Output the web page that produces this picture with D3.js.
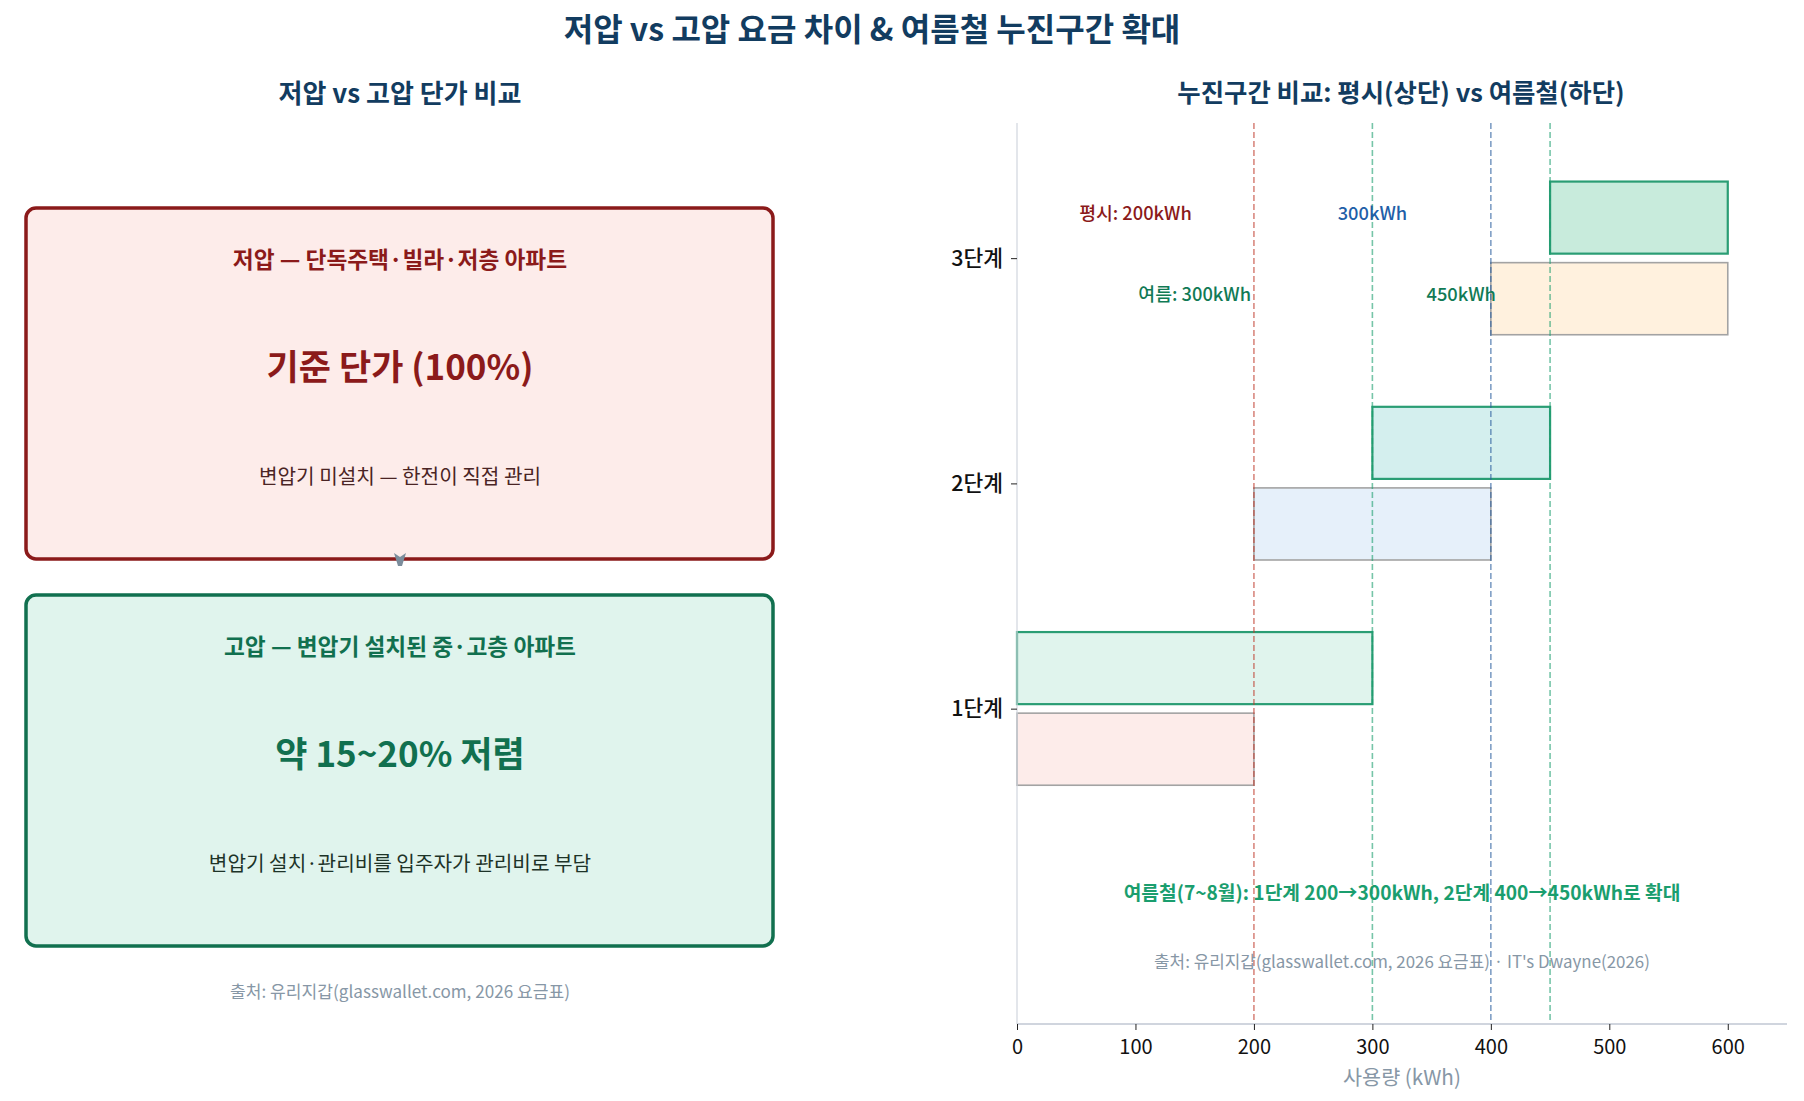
<!DOCTYPE html>
<html>
<head>
<meta charset="utf-8">
<script src="https://d3js.org/d3.v7.min.js"></script>
<style>
  body { margin: 0; background: #fff; }
  svg text { font-family: "Noto Sans CJK KR", "Noto Sans", sans-serif; }
</style>
</head>
<body>
<svg id="chart" width="1804" height="1101"></svg>
<script>
// ---- data ----
const tiers = ["1단계", "2단계", "3단계"];
const normalStart = [0, 200, 400];      // 평시 구간 시작 (kWh)
const normalEnd = [200, 400, 600];      // 평시 구간 끝
const summerStart = [0, 300, 450];      // 여름철 구간 시작
const summerEnd = [300, 450, 600];      // 여름철 구간 끝
const normalFill = ["#fdecea", "#e6f0fa", "#fff1de"];
const summerFill = ["#e0f4ed", "#d4efee", "#c8ebdc"];
const thresholds = [200, 300, 400, 450];
const thresholdColor = ["#c0392b", "#1a9e6e", "#2c5f9e", "#1a9e6e"];
const xTicks = [0, 100, 200, 300, 400, 500, 600];

// labels above bars: [text, x position, color]
const normalLabels = [["평시: 200kWh", 100, "#8b1a1a"], ["300kWh", 300, "#1f5fa8"]];
const summerLabels = [["여름: 300kWh", 150, "#117a55"], ["450kWh", 375, "#117a55"]];

// left panel boxes
const boxTitles = ["저압 — 단독주택·빌라·저층 아파트", "고압 — 변압기 설치된 중·고층 아파트"];
const boxMain = ["기준 단가 (100%)", "약 15~20% 저렴"];
const boxNotes = ["변압기 미설치 — 한전이 직접 관리", "변압기 설치·관리비를 입주자가 관리비로 부담"];
const boxStroke = ["#8b1a1a", "#11704f"];
const boxFill = ["#fdecea", "#e0f4ed"];
const boxNoteColor = ["#4a2424", "#1d3328"];

const svg = d3.select("#chart");

// titles
svg.append("text").attr("x", 872).attr("y", 27)
  .attr("text-anchor", "middle").attr("dominant-baseline", "central")
  .attr("font-size", 32).attr("font-weight", 700).attr("fill", "#123c60")
  .text("저압 vs 고압 요금 차이 & 여름철 누진구간 확대");

svg.append("text").attr("x", 400).attr("y", 91)
  .attr("text-anchor", "middle").attr("dominant-baseline", "central")
  .attr("font-size", 26).attr("font-weight", 700).attr("fill", "#123c60")
  .text("저압 vs 고압 단가 비교");

svg.append("text").attr("x", 1401).attr("y", 91)
  .attr("text-anchor", "middle").attr("dominant-baseline", "central")
  .attr("font-size", 25.4).attr("font-weight", 700).attr("fill", "#123c60")
  .text("누진구간 비교: 평시(상단) vs 여름철(하단)");

// ---- left panel: two rounded boxes ----
const boxTop = [208, 595];
const boxH = 351;
const left = svg.append("g");

boxTop.forEach((top, i) => {
  left.append("rect")
    .attr("x", 26).attr("y", top).attr("width", 747).attr("height", boxH)
    .attr("rx", 10).attr("ry", 10)
    .attr("fill", boxFill[i]).attr("stroke", boxStroke[i]).attr("stroke-width", 3.5);

  left.append("text").attr("x", 400).attr("y", top + 50)
    .attr("text-anchor", "middle").attr("dominant-baseline", "central")
    .attr("font-size", 22.7).attr("font-weight", 700).attr("fill", boxStroke[i])
    .text(boxTitles[i]);

  left.append("text").attr("x", 400).attr("y", top + 156)
    .attr("text-anchor", "middle").attr("dominant-baseline", "central")
    .attr("font-size", 35).attr("font-weight", 700).attr("fill", boxStroke[i])
    .text(boxMain[i]);

  left.append("text").attr("x", 400).attr("y", top + 267)
    .attr("text-anchor", "middle").attr("dominant-baseline", "central")
    .attr("font-size", 20.2).attr("fill", boxNoteColor[i])
    .text(boxNotes[i]);
});

// tiny arrow head between the boxes
left.append("path")
  .attr("d", "M394,553 L400,557 L406,553 L402,566 L398,566 Z")
  .attr("fill", "#7b8d9c");

left.append("text").attr("x", 400).attr("y", 990)
  .attr("text-anchor", "middle").attr("dominant-baseline", "central")
  .attr("font-size", 17.1).attr("fill", "#8797a6")
  .text("출처: 유리지갑(glasswallet.com, 2026 요금표)");

// ---- right panel: tier ranges ----
const x = d3.scaleLinear().domain([0, 650]).range([1017, 1787]);
const y = d3.scaleLinear().domain([-1.4, 2.6]).range([1024, 123]);
const barH = y(0) - y(0.32);
const off = 0.18;

const right = svg.append("g");

// 평시 bars (lower)
right.selectAll("rect.normal").data(tiers).join("rect")
  .attr("class", "normal")
  .attr("x", (d, i) => x(normalStart[i]))
  .attr("y", (d, i) => y(i - off) - barH / 2)
  .attr("width", (d, i) => x(normalEnd[i]) - x(normalStart[i]))
  .attr("height", barH)
  .attr("fill", (d, i) => normalFill[i])
  .attr("stroke", "#a3a3a3").attr("stroke-width", 1.6);

// 여름철 bars (upper)
right.selectAll("rect.summer").data(tiers).join("rect")
  .attr("class", "summer")
  .attr("x", (d, i) => x(summerStart[i]))
  .attr("y", (d, i) => y(i + off) - barH / 2)
  .attr("width", (d, i) => x(summerEnd[i]) - x(summerStart[i]))
  .attr("height", barH)
  .attr("fill", (d, i) => summerFill[i])
  .attr("stroke", "#2a9d74").attr("stroke-width", 2.2);

// threshold lines
right.selectAll("line.thr").data(thresholds).join("line")
  .attr("class", "thr")
  .attr("x1", d => x(d)).attr("x2", d => x(d))
  .attr("y1", y(2.6)).attr("y2", y(-1.4))
  .attr("stroke", (d, i) => thresholdColor[i])
  .attr("stroke-opacity", 0.6)
  .attr("stroke-width", 1.6)
  .attr("stroke-dasharray", "6,3");

// left spine
right.append("line")
  .attr("x1", x(0)).attr("x2", x(0)).attr("y1", y(2.6)).attr("y2", y(-1.4))
  .attr("stroke", "#d0d5de").attr("stroke-width", 1.2);

// axes
const xAxis = d3.axisBottom(x).tickValues(xTicks).tickSize(6).tickPadding(10);
const gx = right.append("g").attr("transform", `translate(0,${y(-1.4)})`).call(xAxis);
gx.select(".domain").attr("stroke", "#d0d5de").attr("stroke-width", 2.2)
  .attr("d", `M${x(0)},0H${x(650)}`);
gx.selectAll(".tick line").attr("stroke", "#222");
gx.selectAll(".tick text").attr("font-size", 20).attr("fill", "#111")
  .attr("font-family", "\"Noto Sans CJK KR\", sans-serif");

const yAxis = d3.axisLeft(y).tickValues([0, 1, 2]).tickFormat(d => tiers[d]).tickSize(6).tickPadding(8);
const gy = right.append("g").attr("transform", `translate(${x(0)},0)`).call(yAxis);
gy.select(".domain").remove();
gy.selectAll(".tick line").attr("stroke", "#222");
gy.selectAll(".tick text").attr("font-size", 21.5).attr("font-weight", 500).attr("fill", "#111")
  .attr("font-family", "\"Noto Sans CJK KR\", sans-serif");

right.append("text").attr("x", x(325)).attr("y", 1076)
  .attr("text-anchor", "middle").attr("dominant-baseline", "central")
  .attr("font-size", 20.7).attr("fill", "#8797a6")
  .text("사용량 (kWh)");

// threshold labels
right.selectAll("text.nlab").data(normalLabels).join("text")
  .attr("class", "nlab")
  .attr("x", d => x(d[1])).attr("y", y(2.207))
  .attr("text-anchor", "middle").attr("dominant-baseline", "central")
  .attr("font-size", 18.3).attr("font-weight", 500).attr("fill", d => d[2])
  .text(d => d[0]);

right.selectAll("text.slab").data(summerLabels).join("text")
  .attr("class", "slab")
  .attr("x", d => x(d[1])).attr("y", y(1.845))
  .attr("text-anchor", "middle").attr("dominant-baseline", "central")
  .attr("font-size", 18.3).attr("font-weight", 500).attr("fill", d => d[2])
  .text(d => d[0]);

right.append("text").attr("x", x(325)).attr("y", y(-0.815))
  .attr("text-anchor", "middle").attr("dominant-baseline", "central")
  .attr("font-size", 19.2).attr("font-weight", 700).attr("fill", "#1a9e6e")
  .text("여름철(7~8월): 1단계 200→300kWh, 2단계 400→450kWh로 확대");

right.append("text").attr("x", x(325)).attr("y", y(-1.116))
  .attr("text-anchor", "middle").attr("dominant-baseline", "central")
  .attr("font-size", 16.9).attr("fill", "#8797a6")
  .text("출처: 유리지갑(glasswallet.com, 2026 요금표) · IT's Dwayne(2026)");
</script>
</body>
</html>
